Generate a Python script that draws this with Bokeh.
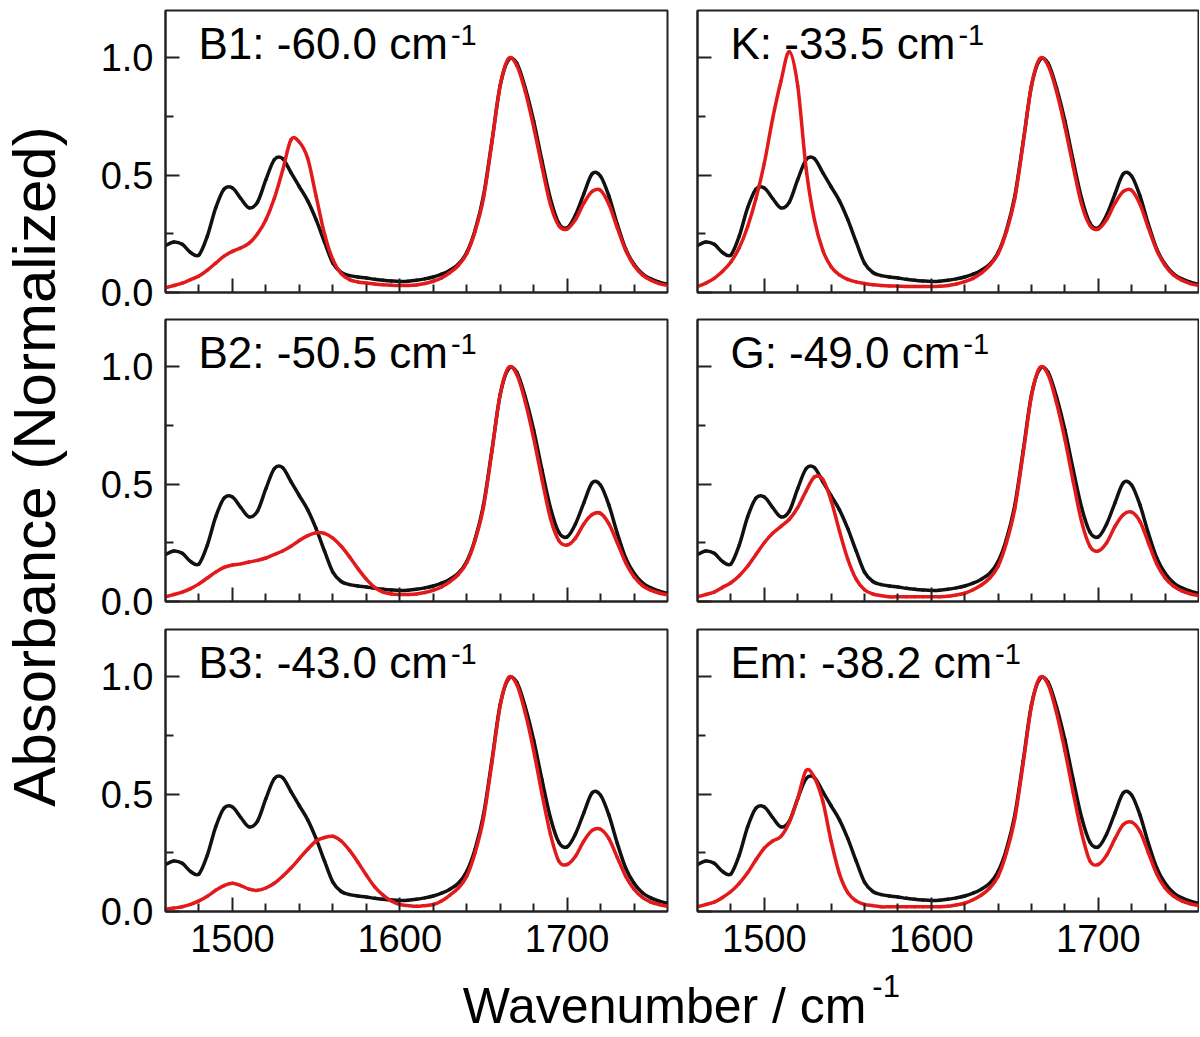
import math
from bokeh.plotting import figure
from bokeh.layouts import gridplot, column, row
from bokeh.models import Range1d, FixedTicker, Label
from bokeh.embed import file_html
from bokeh.resources import INLINE

# ---------------- data ----------------
wavenumber = list(range(1460, 1765, 5))

reference = [0.200, 0.215, 0.205, 0.170, 0.160, 0.240, 0.360, 0.440, 0.445, 0.400,
             0.360, 0.385, 0.480, 0.565, 0.570, 0.510, 0.450, 0.390, 0.310, 0.215,
             0.125, 0.085, 0.072, 0.066, 0.062, 0.056, 0.052, 0.049, 0.047, 0.048,
             0.052, 0.058, 0.066, 0.078, 0.095, 0.120, 0.170, 0.265, 0.410, 0.640,
             0.880, 0.990, 0.975, 0.870, 0.730, 0.560, 0.400, 0.295, 0.275, 0.330,
             0.420, 0.505, 0.495, 0.410, 0.290, 0.185, 0.120, 0.080, 0.058, 0.044,
             0.035]

red_B1 = [0.020, 0.030, 0.040, 0.055, 0.070, 0.095, 0.125, 0.155, 0.175, 0.190,
          0.210, 0.250, 0.310, 0.400, 0.520, 0.650, 0.640, 0.570, 0.410, 0.250,
          0.140, 0.080, 0.055, 0.045, 0.040, 0.036, 0.033, 0.031, 0.030, 0.030,
          0.032, 0.038, 0.048, 0.062, 0.085, 0.115, 0.165, 0.260, 0.400, 0.635,
          0.880, 0.995, 0.965, 0.855, 0.705, 0.535, 0.375, 0.285, 0.270, 0.310,
          0.380, 0.430, 0.435, 0.375, 0.275, 0.180, 0.115, 0.075, 0.052, 0.038,
          0.030]

red_K = [0.025, 0.040, 0.060, 0.090, 0.130, 0.190, 0.280, 0.400, 0.550, 0.740,
         0.900, 1.025, 0.880, 0.530, 0.310, 0.180, 0.110, 0.075, 0.056, 0.045,
         0.038, 0.033, 0.030, 0.028, 0.027, 0.026, 0.026, 0.026, 0.026, 0.027,
         0.030, 0.036, 0.046, 0.060, 0.082, 0.115, 0.165, 0.260, 0.400, 0.635,
         0.880, 0.995, 0.965, 0.855, 0.705, 0.535, 0.375, 0.285, 0.270, 0.310,
         0.380, 0.430, 0.435, 0.375, 0.275, 0.180, 0.115, 0.075, 0.052, 0.038,
         0.030]

red_B2 = [0.020, 0.030, 0.040, 0.055, 0.075, 0.100, 0.125, 0.145, 0.155, 0.160,
          0.168, 0.175, 0.185, 0.200, 0.215, 0.235, 0.260, 0.280, 0.293, 0.290,
          0.270, 0.235, 0.190, 0.140, 0.095, 0.060, 0.040, 0.032, 0.030, 0.030,
          0.032, 0.038, 0.048, 0.062, 0.085, 0.115, 0.165, 0.260, 0.400, 0.635,
          0.880, 0.995, 0.965, 0.850, 0.695, 0.520, 0.355, 0.260, 0.240, 0.270,
          0.330, 0.370, 0.375, 0.330, 0.250, 0.165, 0.105, 0.068, 0.048, 0.036,
          0.028]

red_G = [0.020, 0.030, 0.040, 0.060, 0.080, 0.110, 0.150, 0.200, 0.250, 0.290,
         0.320, 0.350, 0.400, 0.470, 0.530, 0.520, 0.430, 0.300, 0.180, 0.095,
         0.050, 0.032, 0.025, 0.020, 0.020, 0.020, 0.020, 0.020, 0.020, 0.020,
         0.022, 0.028, 0.035, 0.050, 0.070, 0.100, 0.150, 0.250, 0.395, 0.630,
         0.875, 0.995, 0.965, 0.845, 0.690, 0.510, 0.340, 0.235, 0.215, 0.250,
         0.320, 0.370, 0.380, 0.340, 0.250, 0.160, 0.100, 0.065, 0.045, 0.033,
         0.025]

red_B3 = [0.010, 0.015, 0.020, 0.030, 0.045, 0.065, 0.090, 0.110, 0.120, 0.110,
          0.095, 0.090, 0.100, 0.120, 0.150, 0.185, 0.225, 0.265, 0.300, 0.315,
          0.320, 0.300, 0.260, 0.210, 0.155, 0.105, 0.070, 0.045, 0.030, 0.025,
          0.022, 0.025, 0.030, 0.045, 0.070, 0.100, 0.150, 0.250, 0.395, 0.630,
          0.875, 0.995, 0.965, 0.845, 0.685, 0.500, 0.330, 0.215, 0.200, 0.235,
          0.300, 0.345, 0.350, 0.310, 0.230, 0.150, 0.095, 0.060, 0.040, 0.030,
          0.022]

red_Em = [0.020, 0.030, 0.040, 0.060, 0.085, 0.120, 0.165, 0.220, 0.270, 0.300,
          0.320, 0.380, 0.480, 0.600, 0.570, 0.470, 0.300, 0.160, 0.080, 0.045,
          0.030, 0.025, 0.020, 0.020, 0.020, 0.020, 0.020, 0.020, 0.020, 0.020,
          0.022, 0.028, 0.035, 0.050, 0.070, 0.100, 0.150, 0.250, 0.395, 0.630,
          0.875, 0.995, 0.965, 0.845, 0.685, 0.505, 0.335, 0.215, 0.200, 0.240,
          0.310, 0.370, 0.380, 0.340, 0.250, 0.160, 0.100, 0.065, 0.045, 0.033,
          0.025]

panel_names = ["B1", "K", "B2", "G", "B3", "Em"]
panel_shifts = ["-60.0", "-33.5", "-50.5", "-49.0", "-43.0", "-38.2"]
panel_red = [red_B1, red_K, red_B2, red_G, red_B3, red_Em]

x_major = [1500, 1600, 1700]
x_minor = [1480, 1520, 1540, 1560, 1580, 1620, 1640, 1660, 1680, 1720, 1740]
y_major = [0.0, 0.5, 1.0]
y_minor = [0.25, 0.75]
y_tick_labels = {0.0: "0.0", 0.5: "0.5", 1.0: "1.0"}

# ---------------- style ----------------
FONT = "Liberation Sans"
RED = "#e31a1c"
BLACK = "#111111"
FRAME = "#222222"
ARIAL = {'B': 667, 'K': 667, 'G': 778, 'E': 667, 'm': 833, 'c': 500, ':': 278,
         ' ': 278, '-': 333, '.': 278, '/': 278, 'W': 944, 'a': 556, 'v': 500,
         'e': 556, 'n': 556, 'u': 556, 'b': 556, 'r': 333}
BASE_SHIFT = 0.35   # em offset of Bokeh's text anchor above the glyph baseline


def text_width(s, size):
    return sum(ARIAL.get(ch, 556) for ch in s) / 1000.0 * size


def smooth_curve(p, xs, ys, color, width):
    """Draw the read points as a smooth curve (Catmull-Rom -> cubic Bezier glyphs)."""
    n = len(xs)
    seg = dict(x0=[], y0=[], x1=[], y1=[], cx0=[], cy0=[], cx1=[], cy1=[])
    for i in range(n - 1):
        a, b = max(i - 1, 0), min(i + 2, n - 1)
        seg["x0"].append(xs[i]); seg["y0"].append(ys[i])
        seg["x1"].append(xs[i + 1]); seg["y1"].append(ys[i + 1])
        seg["cx0"].append(xs[i] + (xs[i + 1] - xs[a]) / 6.0)
        seg["cy0"].append(ys[i] + (ys[i + 1] - ys[a]) / 6.0)
        seg["cx1"].append(xs[i + 1] - (xs[b] - xs[i]) / 6.0)
        seg["cy1"].append(ys[i + 1] - (ys[b] - ys[i]) / 6.0)
    p.bezier(line_color=color, line_width=width, line_cap="round", **seg)


FRAME_H = 282
YLAB_W = 78
COL_W = [604, 517]
COL_BL = [87, 15]
COL_BR = [15, 1]
ROW_BT = [10, 6, 6]
ROW_BB = [21, 22, 56]

TITLE_SIZE = 44
SUP_SIZE = 29
TICK_SIZE = "38px"
LW = 3.5
PX_PER_Y = FRAME_H / 1.2


def make_panel(i, r, c):
    h = ROW_BT[r] + FRAME_H + ROW_BB[r]
    p = figure(width=COL_W[c], height=h, output_backend="svg", toolbar_location=None,
               title=None,
               x_range=Range1d(1460, 1760), y_range=Range1d(0, 1.2),
               min_border_left=COL_BL[c], min_border_right=COL_BR[c],
               min_border_top=ROW_BT[r], min_border_bottom=ROW_BB[r])
    p.grid.visible = False
    p.outline_line_color = FRAME
    p.outline_line_width = 2
    p.background_fill_color = "white"
    p.border_fill_color = "white"

    for ax in (p.xaxis[0], p.yaxis[0]):
        ax.axis_line_color = FRAME
        ax.axis_line_width = 2
        ax.major_tick_line_color = FRAME
        ax.minor_tick_line_color = FRAME
        ax.major_tick_line_width = 2
        ax.minor_tick_line_width = 2
        ax.major_tick_in = 14
        ax.major_tick_out = 0
        ax.minor_tick_in = 8
        ax.minor_tick_out = 0
        ax.major_label_text_font = FONT
        ax.major_label_text_color = "black"
        ax.major_label_text_font_size = TICK_SIZE

    p.xaxis.ticker = FixedTicker(ticks=x_major, minor_ticks=x_minor)
    p.yaxis.ticker = FixedTicker(ticks=y_major, minor_ticks=y_minor)
    p.yaxis.major_label_overrides = y_tick_labels
    p.xaxis.major_label_standoff = 13
    p.yaxis.major_label_standoff = 12

    if r != 2:
        p.xaxis.major_label_overrides = {t: "" for t in x_major}
        p.xaxis.major_label_text_font_size = "0px"
        p.xaxis.major_label_standoff = 0
    if c != 0:
        p.yaxis.major_label_overrides = {t: "" for t in y_major}
        p.yaxis.major_label_text_font_size = "0px"
        p.yaxis.major_label_standoff = 0

    smooth_curve(p, wavenumber, reference, BLACK, LW)
    smooth_curve(p, wavenumber, panel_red[i], RED, LW)

    # panel title with superscript (baselines 48 px / 35 px below the frame top)
    x0 = 1460 + 33 / 1.673
    main = f"{panel_names[i]}: {panel_shifts[i]} cm"
    y_main = 1.2 - (48 - BASE_SHIFT * TITLE_SIZE) / PX_PER_Y
    y_sup = 1.2 - (35 - BASE_SHIFT * SUP_SIZE) / PX_PER_Y
    p.add_layout(Label(x=x0, y=y_main, text=main, text_font=FONT,
                       text_font_size=f"{TITLE_SIZE}px", text_color="black",
                       text_align="left", text_baseline="alphabetic"))
    p.add_layout(Label(x=x0, y=y_sup, x_offset=text_width(main, TITLE_SIZE) + 3,
                       text="-1", text_font=FONT, text_font_size=f"{SUP_SIZE}px",
                       text_color="black", text_align="left", text_baseline="alphabetic"))
    return p


panels = []
for r in range(3):
    rowp = []
    for c in range(2):
        i = r * 2 + c
        rowp.append(make_panel(i, r, c))
    panels.append(rowp)

grid = gridplot(panels, toolbar_location=None)

GRID_H = sum(ROW_BT) + 3 * FRAME_H + sum(ROW_BB)

# y axis title
YSIZE = 60
ylab = figure(width=YLAB_W, height=GRID_H, output_backend="svg", toolbar_location=None,
              title=None, x_range=Range1d(0, YLAB_W), y_range=Range1d(0, GRID_H),
              x_axis_type=None, y_axis_type=None, min_border=0)
ylab.grid.visible = False
ylab.outline_line_color = None
ylab.add_layout(Label(x=0.57 * YSIZE, y=GRID_H - 466, text="Absorbance (Normalized)",
                      angle=math.pi / 2, text_font=FONT, text_font_size=f"{YSIZE}px",
                      text_color="black", text_align="center", text_baseline="middle"))

# x axis title
XW = YLAB_W + sum(COL_W)
XH = 68
xlab = figure(width=XW, height=XH, output_backend="svg", toolbar_location=None,
              title=None, x_range=Range1d(0, XW), y_range=Range1d(0, XH),
              x_axis_type=None, y_axis_type=None, min_border=0)
xlab.grid.visible = False
xlab.outline_line_color = None
xtitle = "Wavenumber / cm"
XSIZE = 50
XSUP = 31
xstart = 665 - text_width(xtitle, XSIZE) / 2
xlab.add_layout(Label(x=xstart, y=12 + BASE_SHIFT * XSIZE, text=xtitle, text_font=FONT,
                      text_font_size=f"{XSIZE}px", text_color="black",
                      text_align="left", text_baseline="alphabetic"))
xlab.add_layout(Label(x=xstart + text_width(xtitle, XSIZE) + 4, y=39 + BASE_SHIFT * XSUP,
                      text="-1", text_font=FONT, text_font_size=f"{XSUP}px",
                      text_color="black", text_align="left", text_baseline="alphabetic"))

layout = column(row(ylab, grid), xlab)

open("out.html", "w").write(file_html(layout, INLINE))
